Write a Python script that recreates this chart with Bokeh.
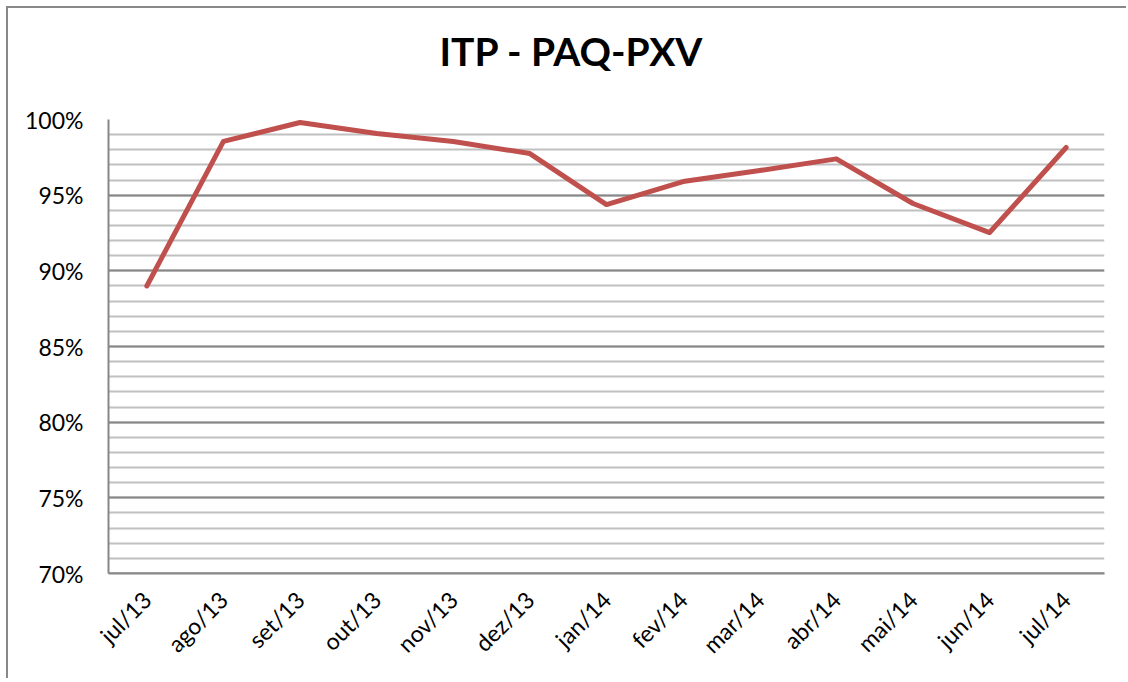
import math
from bokeh.plotting import figure
from bokeh.models import (FactorRange, Range1d, SingleIntervalTicker, NumeralTickFormatter,
                          ColumnDataSource)
from bokeh.embed import file_html
from bokeh.resources import INLINE

title_text = "ITP - PAQ-PXV"
months = ["jul/13", "ago/13", "set/13", "out/13", "nov/13", "dez/13",
          "jan/14", "fev/14", "mar/14", "abr/14", "mai/14", "jun/14", "jul/14"]
itp = [0.890, 0.9855, 0.998, 0.9907, 0.9855, 0.9775,
       0.9438, 0.959, 0.9663, 0.974, 0.9445, 0.9253, 0.9815]
y_min, y_max = 0.70, 1.00
major_step = 0.05

FONT = "Lato"
GRID_MAJOR = "#878787"
GRID_MINOR = "#c0c0c0"
W, H = 1126, 678

p = figure(
    x_range=FactorRange(*months),
    y_range=Range1d(y_min, y_max),
    width=W, height=H,
    output_backend="svg", toolbar_location=None,
    title=title_text + "\n",
    min_border_left=108, min_border_right=22,
    min_border_top=119, min_border_bottom=105,
    styles={"box-shadow": "inset 6px 6px 0 0 #ffffff, inset 8px 8px 0 0 #888888"},
)

p.title.text_font = FONT
p.title.text_font_size = "39px"
p.title.text_font_style = "bold"
p.title.text_color = "#000000"
p.title.align = "left"
p.title.offset = 331
p.title.standoff = 0
p.title.vertical_align = "bottom"

src = ColumnDataSource(dict(x=months, y=itp))
p.line("x", "y", source=src, line_color="#C0504D", line_width=5,
       line_cap="round", line_join="round")

# y axis
p.yaxis.ticker = SingleIntervalTicker(interval=major_step, num_minor_ticks=5)
p.yaxis.formatter = NumeralTickFormatter(format="0%")
p.yaxis.major_label_text_font = FONT
p.yaxis.major_label_text_font_size = "23px"
p.yaxis.major_label_text_color = "#000000"
p.yaxis.major_label_standoff = 19
p.yaxis.major_tick_line_color = None
p.yaxis.minor_tick_line_color = None
p.yaxis.axis_line_color = GRID_MAJOR
p.yaxis.axis_line_width = 2

# x axis
p.xaxis.major_label_orientation = math.pi / 4
p.xaxis.major_label_text_font = FONT
p.xaxis.major_label_text_font_size = "23px"
p.xaxis.major_label_text_color = "#000000"
p.xaxis.major_label_standoff = 16
p.xaxis.major_tick_line_color = None
p.xaxis.minor_tick_line_color = None
p.xaxis.axis_line_color = GRID_MAJOR
p.xaxis.axis_line_width = 2

# grids
p.xgrid.grid_line_color = None
p.ygrid.grid_line_color = GRID_MAJOR
p.ygrid.grid_line_width = 2
p.ygrid.minor_grid_line_color = GRID_MINOR
p.ygrid.minor_grid_line_width = 2

p.outline_line_color = None
p.background_fill_color = "white"
p.border_fill_color = None

open("out.html", "w").write(file_html(p, INLINE))
